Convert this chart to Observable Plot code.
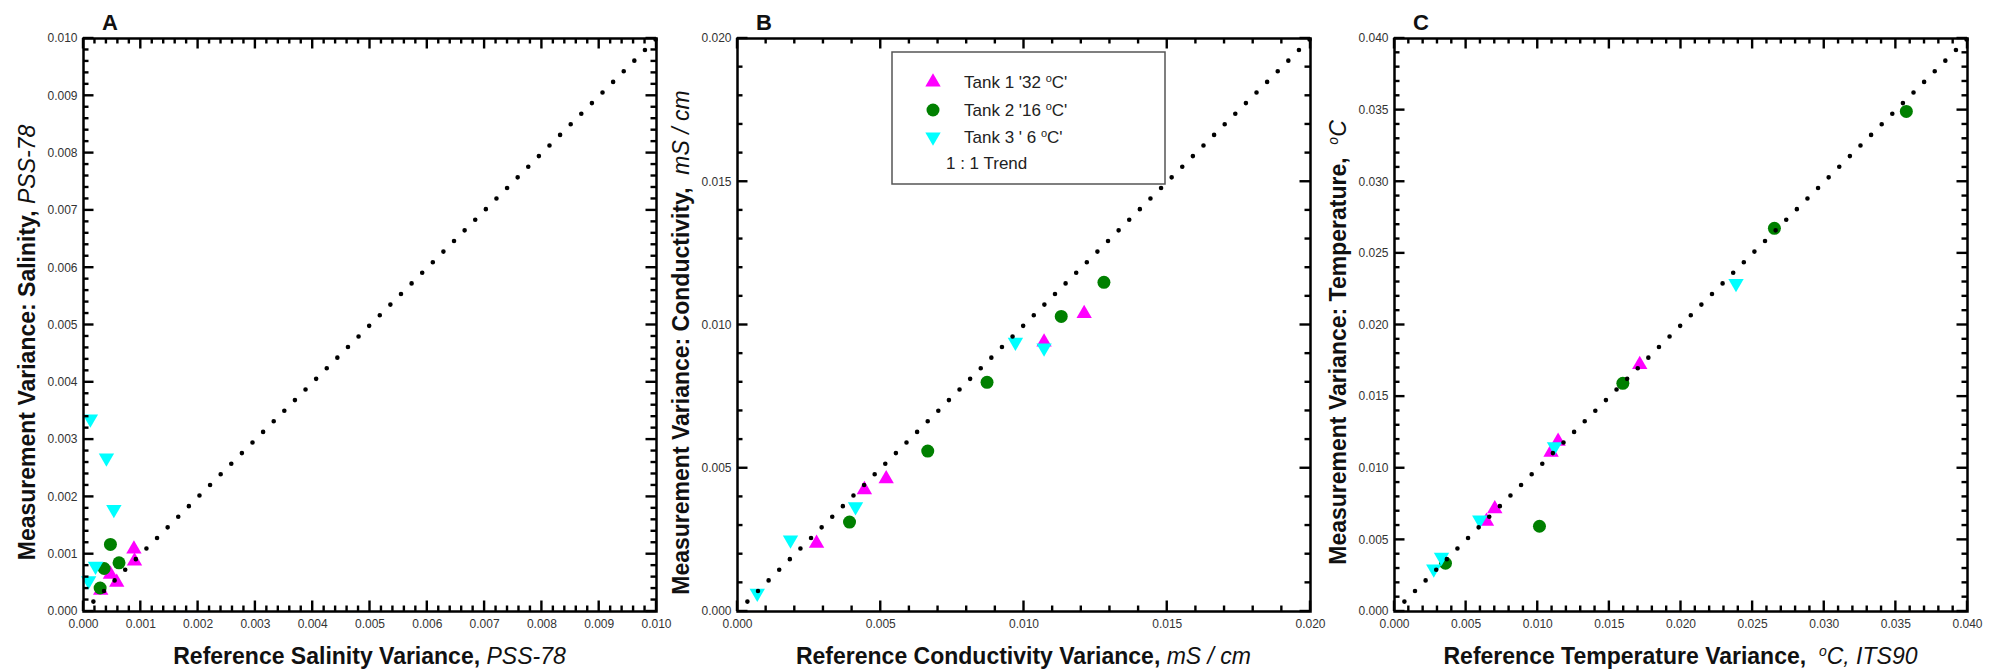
<!DOCTYPE html>
<html><head><meta charset="utf-8">
<script src="https://cdn.jsdelivr.net/npm/d3@7"></script>
<script src="https://cdn.jsdelivr.net/npm/@observablehq/plot@0.6"></script>
<style>
body{margin:0;background:#fff;font-family:"Liberation Sans",Arial,sans-serif;}
#wrap{position:relative;width:1998px;height:669px;overflow:hidden;background:#fff;}
</style></head><body><div id="wrap"></div>
<script>
// ---------- data ----------
const tankLabels = ["Tank 1 '32 °C'", "Tank 2 '16 °C'", "Tank 3 ' 6 °C'"];
const trendLabel = "1 : 1 Trend";
const tankColors = ["#ff00ff", "#008000", "#00ffff"];

// Panel A: salinity
const salRef1  = [0.00088, 0.00089, 0.00047, 0.00058, 0.00030];
const salMeas1 = [0.00109, 0.00088, 0.00065, 0.00051, 0.00037];
const salRef2  = [0.00047, 0.00062, 0.00036, 0.00029];
const salMeas2 = [0.00117, 0.00085, 0.00075, 0.00041];
const salRef3  = [0.00012, 0.00040, 0.00053, 0.00021, 0.00009];
const salMeas3 = [0.00336, 0.00268, 0.00178, 0.00079, 0.00054];

// Panel B: conductivity
const condRef1  = [0.00276, 0.00443, 0.00519, 0.0107, 0.0121];
const condMeas1 = [0.00238, 0.00425, 0.00463, 0.0094, 0.0104];
const condRef2  = [0.00391, 0.00664, 0.00871, 0.0113, 0.01279];
const condMeas2 = [0.00312, 0.00560, 0.00800, 0.0103, 0.01149];
const condRef3  = [0.00069, 0.00185, 0.00412, 0.0097, 0.0107];
const condMeas3 = [0.00064, 0.00250, 0.00366, 0.0094, 0.0092];

// Panel C: temperature
const tempRef1  = [0.00642, 0.00700, 0.01093, 0.01142, 0.01712];
const tempMeas1 = [0.00630, 0.00717, 0.01112, 0.01188, 0.01724];
const tempRef2  = [0.00356, 0.01012, 0.01594, 0.02652, 0.03573];
const tempMeas2 = [0.00337, 0.00595, 0.01593, 0.02675, 0.03491];
const tempRef3  = [0.00274, 0.00328, 0.00595, 0.01117, 0.02384];
const tempMeas3 = [0.00298, 0.00379, 0.00640, 0.01151, 0.02291];

// 1:1 trend end points
const trendA = [0, 0.010];
const trendB = [0, 0.020];
const trendC = [0, 0.040];

// tick labels
const ticksA = [0.000,0.001,0.002,0.003,0.004,0.005,0.006,0.007,0.008,0.009,0.010];
const ticksB = [0.000,0.005,0.010,0.015,0.020];
const ticksC = [0.000,0.005,0.010,0.015,0.020,0.025,0.030,0.035,0.040];

// ---------- drawing ----------
const FR = 573, H = 669, MT = 38, MB = H - MT - FR;
const FONT = "'Liberation Sans', Arial, sans-serif";
const TITLE = 23;

function tankMarks(ref, meas, t) {
  const idx = d3.range(ref.length);
  const base = {x: i => ref[i], y: i => meas[i], fill: tankColors[t], stroke: "none"};
  if (t === 0) return Plot.dot(idx, {...base, symbol: "triangle", r: 5.7});
  if (t === 1) return Plot.dot(idx, {...base, symbol: "circle", r: 6.5});
  return Plot.dot(idx, {...base, symbol: "triangle", r: 5.7, rotate: 180});
}

function addTitle(sel, parts, size, attrs) {
  const t = sel.append("text")
    .attr("text-anchor", "middle")
    .style("font-family", FONT).style("font-size", size + "px").style("font-weight", "bold")
    .style("fill", "#111");
  for (const [k, v] of Object.entries(attrs)) t.attr(k, v);
  for (const p of parts) {
    const s = t.append("tspan").text(p.text);
    if (p.italic) s.style("font-style", "italic").style("font-weight", "normal");
    if (p.sup) s.attr("baseline-shift", "super").style("font-size", Math.round(size * 0.62) + "px");
  }
  return t;
}

// inward ticks on all four sides, positioned through the plot's own scales
function drawTicks(svg, o) {
  const sx = svg.scale("x"), sy = svg.scale("y");
  const fx = d3.scaleLinear(sx.domain, sx.range), fy = d3.scaleLinear(sy.domain, sy.range);
  const X = v => { const p = sx.apply ? sx.apply(v) : NaN; return isFinite(p) ? p : fx(v); };
  const Y = v => { const p = sy.apply ? sy.apply(v) : NaN; return isFinite(p) ? p : fy(v); };
  const minors = d3.range(0, o.max + o.minorStep / 2, o.minorStep);
  const isMajor = v => o.ticks.some(t => Math.abs(t - v) < o.minorStep / 10);
  const x0 = X(0), x1 = X(o.max), y0 = Y(0), y1 = Y(o.max);
  const g = d3.select(svg).append("g").attr("stroke", "#000").attr("stroke-width", 2.4).attr("fill", "none");
  for (const v of minors) {
    const L = isMajor(v) ? 10.5 : 5.5;
    const px = X(v), py = Y(v);
    g.append("line").attr("x1", px).attr("x2", px).attr("y1", y0).attr("y2", y0 - L);
    g.append("line").attr("x1", px).attr("x2", px).attr("y1", y1).attr("y2", y1 + L);
    g.append("line").attr("y1", py).attr("y2", py).attr("x1", x0).attr("x2", x0 + L);
    g.append("line").attr("y1", py).attr("y2", py).attr("x1", x1).attr("x2", x1 - L);
  }
}

function makePanel(o) {
  const mR = o.width - o.mLeft - FR;
  const marks = [
    Plot.axisX({ticks: o.ticks, tickSize: 0, tickPadding: 8, tickFormat: d3.format(".3f"), label: null, fontSize: 12, color: "#333"}),
    Plot.axisY({ticks: o.ticks, tickSize: 0, tickPadding: 6, tickFormat: d3.format(".3f"), label: null, fontSize: 12, color: "#333"}),
    ...o.sets.map(([r, m], t) => tankMarks(r, m, t)),
    Plot.line(o.trend, {x: d => d, y: d => d, stroke: "#000", strokeWidth: 4.6, strokeDasharray: "0,15", strokeDashoffset: 1, strokeLinecap: "round"}),
    Plot.frame({stroke: "#000", strokeWidth: 2.5, fill: "none"})
  ];
  const svg = Plot.plot({
    width: o.width, height: H,
    marginLeft: o.mLeft, marginRight: mR, marginTop: MT, marginBottom: MB,
    x: {domain: [0, o.max]}, y: {domain: [0, o.max]},
    style: {fontFamily: FONT, fontSize: "12px", background: "transparent", overflow: "visible"},
    marks
  });
  drawTicks(svg, o);
  const s = d3.select(svg);
  // panel letter
  s.append("text").attr("x", o.mLeft + 19).attr("y", 30).attr("text-anchor", "start")
    .style("font-family", FONT).style("font-size", "22px").style("font-weight", "bold").style("fill", "#111")
    .text(o.letter);
  addTitle(s, o.xTitle, TITLE, {x: o.mLeft + FR / 2, y: 664});
  addTitle(s, o.yTitle, TITLE, {transform: `translate(${o.mLeft - 48},${MT + FR / 2 + 18}) rotate(-90)`});
  if (o.legend) drawLegend(s);
  svg.style.position = "absolute";
  svg.style.left = o.left + "px";
  svg.style.top = "0px";
  document.getElementById("wrap").appendChild(svg);
}

function drawLegend(s) {
  const g = s.append("g").attr("text-anchor", "start");
  const bx = 232, by = 52, bw = 273, bh = 132;
  g.append("rect").attr("x", bx).attr("y", by).attr("width", bw).attr("height", bh)
    .attr("fill", "#fff").attr("stroke", "#555").attr("stroke-width", 1.5);
  const rows = [82, 110, 137];
  const syms = [
    {type: d3.symbolTriangle, r: 5.7, rot: 0},
    {type: d3.symbolCircle, r: 6.5, rot: 0},
    {type: d3.symbolTriangle, r: 5.7, rot: 180}
  ];
  tankLabels.forEach((lab, i) => {
    const sy = syms[i];
    g.append("path").attr("d", d3.symbol(sy.type, Math.PI * sy.r * sy.r)())
      .attr("transform", `translate(273,${rows[i]}) rotate(${sy.rot})`)
      .attr("fill", tankColors[i]);
    const [pre, post] = lab.split("°");
    const t = g.append("text").attr("x", 304).attr("y", rows[i] + 6).attr("text-anchor", "start")
      .style("font-family", FONT).style("font-size", "17px").style("fill", "#222");
    t.append("tspan").text(pre);
    t.append("tspan").attr("baseline-shift", "super").style("font-size", "11px").text("o");
    t.append("tspan").text(post);
  });
  g.append("text").attr("x", 286).attr("y", 163 + 6).attr("text-anchor", "start")
    .style("font-family", FONT).style("font-size", "17px").style("fill", "#222")
    .text(trendLabel);
}

makePanel({
  left: 0, width: 660, mLeft: 83, max: 0.010, minorStep: 0.0002, ticks: ticksA,
  sets: [[salRef1, salMeas1], [salRef2, salMeas2], [salRef3, salMeas3]], trend: trendA,
  letter: "A",
  xTitle: [{text: "Reference Salinity Variance, "}, {text: "PSS-78", italic: true}],
  yTitle: [{text: "Measurement Variance: Salinity, "}, {text: "PSS-78", italic: true}]
});
makePanel({
  left: 660, width: 660, mLeft: 77, max: 0.020, minorStep: 0.001, ticks: ticksB,
  sets: [[condRef1, condMeas1], [condRef2, condMeas2], [condRef3, condMeas3]], trend: trendB,
  letter: "B", legend: true,
  xTitle: [{text: "Reference Conductivity Variance, "}, {text: "mS / cm", italic: true}],
  yTitle: [{text: "Measurement Variance: Conductivity,  "}, {text: "mS / cm", italic: true}]
});
makePanel({
  left: 1320, width: 678, mLeft: 74, max: 0.040, minorStep: 0.001, ticks: ticksC,
  sets: [[tempRef1, tempMeas1], [tempRef2, tempMeas2], [tempRef3, tempMeas3]], trend: trendC,
  letter: "C",
  xTitle: [{text: "Reference Temperature Variance,  "}, {text: "o", italic: true, sup: true}, {text: "C, ITS90", italic: true}],
  yTitle: [{text: "Measurement Variance: Temperature,  "}, {text: "o", italic: true, sup: true}, {text: "C", italic: true}]
});
</script></body></html>
